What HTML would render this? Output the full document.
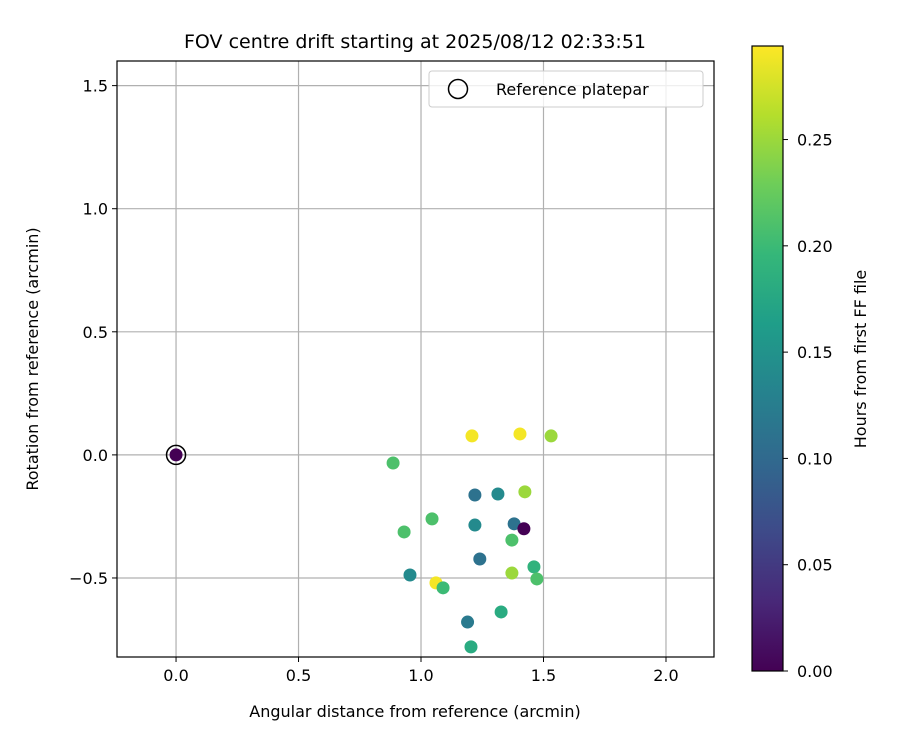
<!DOCTYPE html>
<html><head><meta charset="utf-8"><style>body{margin:0;background:#fff}svg{font-family:"DejaVu Sans","Liberation Sans",sans-serif}</style></head>
<body>
<svg id="c" width="900" height="750"></svg>
<script>
const xs=[1.208,1.404,1.531,0.886,1.22,1.314,1.424,1.045,0.931,1.22,1.38,1.42,1.371,1.24,1.461,1.371,1.473,0.955,1.061,1.09,1.327,1.19,1.204,0];
const ys=[0.077,0.085,0.077,-0.033,-0.163,-0.159,-0.15,-0.26,-0.313,-0.285,-0.28,-0.30,-0.346,-0.423,-0.455,-0.48,-0.504,-0.488,-0.52,-0.54,-0.638,-0.679,-0.78,0];
const hours=[0.29,0.29,0.25,0.21,0.11,0.14,0.25,0.21,0.21,0.14,0.11,0.0,0.21,0.11,0.19,0.25,0.21,0.14,0.29,0.20,0.18,0.12,0.18,0.0];
const xTicks=[0,0.5,1,1.5,2];
const yTicks=[-0.5,0,0.5,1,1.5];
const cTicks=[0,0.05,0.1,0.15,0.2,0.25];
const L=117,R=714,T=61,B=657,xmin=-0.241,xmax=2.196,ymin=-0.821,ymax=1.60;
const cx0=752,cx1=783,cT=46,cB=671,cmax=0.294;
const X=v=>L+(v-xmin)/(xmax-xmin)*(R-L);
const Y=v=>B-(v-ymin)/(ymax-ymin)*(B-T);
const CY=v=>cB-v/cmax*(cB-cT);
const vir=[[68,1,84],[72,40,120],[62,74,137],[49,104,142],[38,130,142],[31,158,137],[53,183,121],[109,205,89],[180,222,44],[253,231,37]];
function col(v){let t=Math.max(0,Math.min(1,v/cmax))*(vir.length-1);let i=Math.min(Math.floor(t),vir.length-2),f=t-i;const c=vir[i].map((a,k)=>Math.round(a+(vir[i+1][k]-a)*f));return `rgb(${c})`;}
const s=document.getElementById('c');const NS='http://www.w3.org/2000/svg';
function el(n,a,p){const e=document.createElementNS(NS,n);for(const k in a)e.setAttribute(k,a[k]);(p||s).appendChild(e);return e;}
function tx(str,a){const e=el('text',a);e.textContent=str;return e;}
const g=el('g',{});


xTicks.forEach(v=>{el('line',{x1:X(v),x2:X(v),y1:T,y2:B,stroke:'#b0b0b0','stroke-width':1.2},g);el('line',{x1:X(v),x2:X(v),y1:B,y2:B+5,stroke:'#000'});
const t=tx(v.toFixed(1),{x:X(v),y:B+24,'text-anchor':'middle','font-size':16});});
yTicks.forEach(v=>{el('line',{x1:L,x2:R,y1:Y(v),y2:Y(v),stroke:'#b0b0b0','stroke-width':1.2},g);el('line',{x1:L-5,x2:L,y1:Y(v),y2:Y(v),stroke:'#000'});
const t=tx(v<0?'\u2212'+Math.abs(v).toFixed(1):v.toFixed(1),{x:L-9,y:Y(v)+6,'text-anchor':'end','font-size':16});});
xs.forEach((v,i)=>{const c=el('circle',{cx:X(v),cy:Y(ys[i]),r:6.5,fill:col(hours[i])});});
const rf=el('circle',{cx:X(0),cy:Y(0),r:9.5,fill:'none',stroke:'#000','stroke-width':1.5});


const fr=el('rect',{x:L,y:T,width:R-L,height:B-T,fill:'none',stroke:'#000','stroke-width':1.2});


const lg=el('g',{});


el('rect',{x:429,y:71,width:274,height:36,rx:3,fill:'#fff',stroke:'#ccc','fill-opacity':0.8},lg);
el('circle',{cx:458,cy:89,r:9.5,fill:'none',stroke:'#000','stroke-width':1.5},lg);
const lt=tx('Reference platepar',{x:496,y:95,'font-size':16});
const ti=tx('FOV centre drift starting at 2025/08/12 02:33:51',{x:415,y:48,'text-anchor':'middle','font-size':19});
const xl=tx('Angular distance from reference (arcmin)',{x:415,y:717,'text-anchor':'middle','font-size':16});
const yl=tx('Rotation from reference (arcmin)',{x:0,y:0,'text-anchor':'middle','font-size':16,transform:'translate(38,359) rotate(-90)'});
const defs=el('defs',{});const gr=el('linearGradient',{id:'vg',x1:0,y1:1,x2:0,y2:0},defs);
vir.forEach((c,i)=>el('stop',{offset:i/(vir.length-1),'stop-color':`rgb(${c})`},gr));
const cb=el('rect',{x:cx0,y:cT,width:cx1-cx0,height:cB-cT,fill:'url(#vg)',stroke:'#000','stroke-width':1.2});


cTicks.forEach(v=>{el('line',{x1:cx1,x2:cx1+5,y1:CY(v),y2:CY(v),stroke:'#000'});const t=tx(v.toFixed(2),{x:cx1+14,y:CY(v)+6,'font-size':16});});
const cl=tx('Hours from first FF file',{x:0,y:0,'text-anchor':'middle','font-size':16,transform:'translate(866,359) rotate(-90)'});
</script>
</body></html>
